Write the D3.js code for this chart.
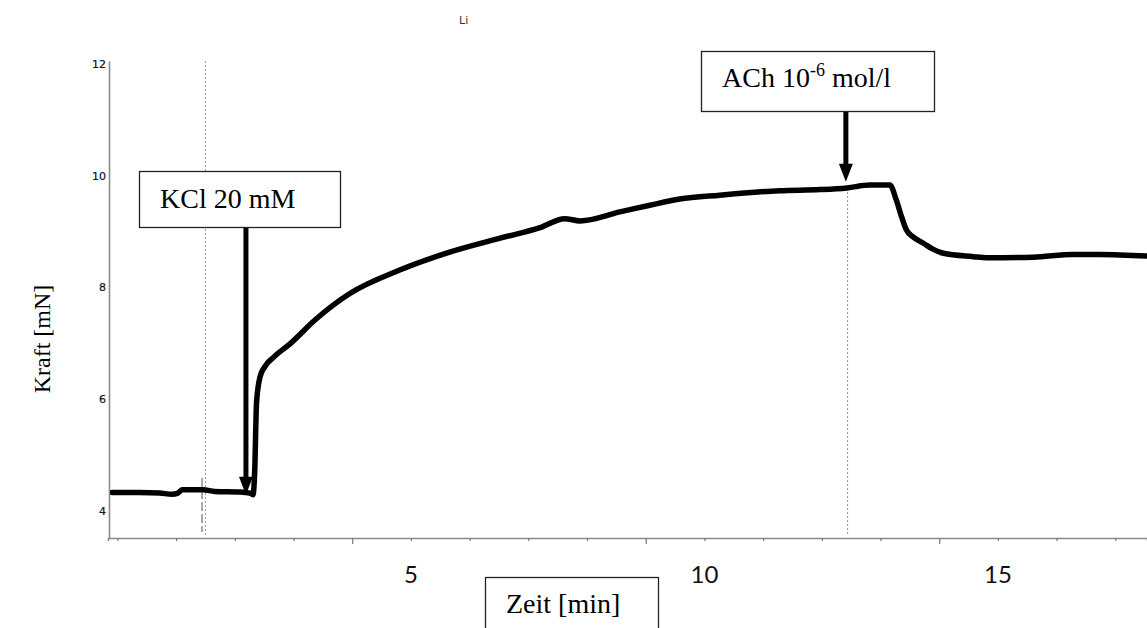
<!DOCTYPE html>
<html>
<head>
<meta charset="utf-8">
<script src="https://cdn.jsdelivr.net/npm/d3@7"></script>
<style>
  html, body { margin: 0; padding: 0; background: #fff; }
  svg { display: block; }
</style>
</head>
<body>
<svg id="chart" width="1147" height="628"></svg>
<script>
// ---- data (time in minutes, force in mN) ----
const timeMin = [-0.09, 0.38, 0.72, 0.93, 1.03, 1.10, 1.46, 1.66, 2.09, 2.26, 2.31, 2.34, 2.37, 2.43, 2.51, 2.65, 2.94, 3.38, 3.96, 4.81, 5.66, 6.52, 7.20, 7.62, 7.88, 8.56, 9.07, 9.58, 10.26, 11.28, 11.97, 12.43, 12.82, 13.16, 13.27, 13.36, 13.44, 13.56, 13.73, 13.90, 14.07, 14.58, 14.81, 15.60, 16.28, 16.74, 17.54];
const forceMN = [4.33, 4.33, 4.32, 4.30, 4.32, 4.38, 4.38, 4.35, 4.34, 4.32, 4.29, 4.73, 5.93, 6.40, 6.58, 6.74, 6.99, 7.43, 7.89, 8.31, 8.63, 8.88, 9.07, 9.23, 9.19, 9.35, 9.47, 9.58, 9.65, 9.73, 9.75, 9.78, 9.83, 9.83, 9.56, 9.26, 9.03, 8.90, 8.79, 8.68, 8.61, 8.55, 8.53, 8.54, 8.59, 8.59, 8.56];

const xTickValues = [0, 1, 2, 3, 4, 5, 6, 7, 8, 9, 10, 11, 12, 13, 14, 15, 16, 17];
const xMajorTicks = [4, 9, 14];
const xTickLabels = [5, 10, 15];
const yTickValues = [4, 6, 8, 10, 12];

const markerTimes = [1.50, 12.44];          // dotted event lines
const kclEvent = { t: 2.19, v: 4.29, label: "KCl 20 mM" };
const achEvent = { t: 12.41, v: 9.89, label: "ACh 10", sup: "-6", tail: " mol/l" };

// ---- scales ----
const svg = d3.select("#chart");
svg.append("rect").attr("width", 1147).attr("height", 628).attr("fill", "#fff");

const x = d3.scaleLinear().domain([-0.16, 17.54]).range([108, 1147]);
const y = d3.scaleLinear().domain([3.517, 12.05]).range([538, 61]);

const serif = "'Liberation Serif', 'Times New Roman', serif";

// top stray title fragment
svg.append("text").attr("x", 459).attr("y", 24)
  .attr("font-family", "'DejaVu Sans', sans-serif").attr("font-size", 11)
  .attr("fill", "#333").text("Li");

// ---- dotted event lines ----
svg.append("line")
  .attr("x1", x(markerTimes[0])).attr("x2", x(markerTimes[0]))
  .attr("y1", y(12.05)).attr("y2", 535)
  .attr("stroke", "#999").attr("stroke-width", 1).attr("stroke-dasharray", "2,2");
svg.append("line")
  .attr("x1", x(markerTimes[1])).attr("x2", x(markerTimes[1]))
  .attr("y1", y(9.78)).attr("y2", 535)
  .attr("stroke", "#888").attr("stroke-width", 1).attr("stroke-dasharray", "2,2");
// small dark marker next to first dotted line
svg.append("line")
  .attr("x1", x(markerTimes[0]) - 3.4).attr("x2", x(markerTimes[0]) - 3.4)
  .attr("y1", 478).attr("y2", 532)
  .attr("stroke", "#555").attr("stroke-width", 1).attr("stroke-dasharray", "9,3");

// ---- axes ----
const yAxis = d3.axisLeft(y).tickValues(yTickValues).tickSize(0).tickSizeOuter(0).tickPadding(3);
const gy = svg.append("g").attr("transform", `translate(${x(-0.16) + 1},0)`).call(yAxis);
gy.select(".domain").attr("stroke", "#8a8a8a").attr("stroke-width", 1.6);
gy.selectAll("text").attr("font-family", "'DejaVu Sans', Verdana, sans-serif")
  .attr("font-size", 11).attr("fill", "#111").attr("stroke", "#111").attr("stroke-width", 0.2);

const xAxis = d3.axisBottom(x).tickValues(xTickValues).tickSizeOuter(0).tickSize(3)
  .tickFormat(() => "");
const gx = svg.append("g").attr("transform", `translate(0,${y(3.517)})`).call(xAxis);
gx.select(".domain").attr("stroke", "#8a8a8a").attr("stroke-width", 1.6);
gx.selectAll(".tick line").attr("stroke", "#777").attr("stroke-width", 1.2)
  .attr("y2", d => xMajorTicks.includes(d) ? 6 : 3);

// x tick labels
svg.append("g").selectAll("text").data(xTickLabels).join("text")
  .attr("x", d => x(d)).attr("y", 583)
  .attr("text-anchor", "middle")
  .attr("font-family", "Lato, 'Open Sans', sans-serif")
  .attr("font-size", 24).attr("fill", "#111")
  .text(d => d);

// ---- trace ----
const traceData = timeMin.map((t, i) => ({ t, v: forceMN[i] }));
svg.append("defs").append("clipPath").attr("id", "plotclip")
  .append("rect").attr("x", 110).attr("y", 40).attr("width", 1037).attr("height", 500);
svg.append("path").datum(traceData)
  .attr("clip-path", "url(#plotclip)")
  .attr("fill", "none").attr("stroke", "#000").attr("stroke-width", 5.5)
  .attr("stroke-linejoin", "round").attr("stroke-linecap", "round")
  .attr("d", d3.line().x(d => x(d.t)).y(d => y(d.v)).curve(d3.curveMonotoneX));

// ---- annotation boxes and arrows ----
function arrow(xp, y0, tipY) {
  svg.append("line").attr("x1", xp).attr("x2", xp).attr("y1", y0).attr("y2", tipY - 16)
    .attr("stroke", "#000").attr("stroke-width", 5);
  svg.append("path")
    .attr("d", `M${xp - 7},${tipY - 18} L${xp + 7},${tipY - 18} L${xp},${tipY} Z`)
    .attr("fill", "#000");
}

// KCl
svg.append("rect").attr("x", 139.5).attr("y", 171.5).attr("width", 201).attr("height", 56)
  .attr("fill", "#fff").attr("stroke", "#222").attr("stroke-width", 1.3);
svg.append("text").attr("x", 160).attr("y", 208)
  .attr("font-family", serif).attr("font-size", 28).attr("fill", "#000")
  .text(kclEvent.label);
arrow(x(kclEvent.t), 228, y(kclEvent.v));

// ACh
svg.append("rect").attr("x", 701.5).attr("y", 51.5).attr("width", 233).attr("height", 60)
  .attr("fill", "#fff").attr("stroke", "#222").attr("stroke-width", 1.3);
const achText = svg.append("text").attr("x", 722).attr("y", 87)
  .attr("font-family", serif).attr("font-size", 28).attr("fill", "#000");
achText.append("tspan").text(achEvent.label);
achText.append("tspan").attr("font-size", 18).attr("dy", -11).text(achEvent.sup);
achText.append("tspan").attr("dy", 11).text(achEvent.tail);
arrow(x(achEvent.t), 112, y(achEvent.v));

// ---- axis titles ----
svg.append("rect").attr("x", 485.5).attr("y", 577.5).attr("width", 173).attr("height", 60)
  .attr("fill", "#fff").attr("stroke", "#222").attr("stroke-width", 1.3);
svg.append("text").attr("x", 506).attr("y", 613)
  .attr("font-family", serif).attr("font-size", 28).attr("fill", "#000")
  .text("Zeit [min]");

svg.append("text")
  .attr("transform", "translate(50,339) rotate(-90)")
  .attr("text-anchor", "middle")
  .attr("font-family", serif).attr("font-size", 24).attr("fill", "#000")
  .text("Kraft [mN]");
</script>
</body>
</html>
